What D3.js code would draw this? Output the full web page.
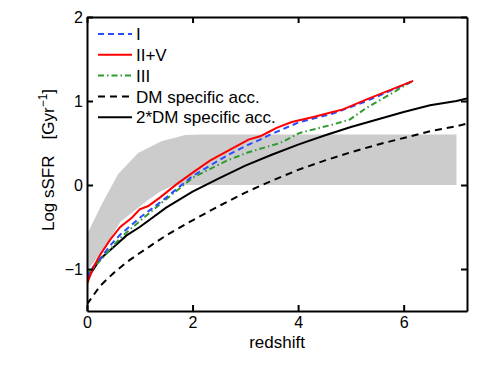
<!DOCTYPE html>
<html>
<head>
	<meta charset="UTF-8"/>
	<title>Log sSFR vs redshift</title>
	<style type="text/css">
		body {
		margin: 0;
		background: #fff;
		font-family: 'Liberation Sans', Arial, sans-serif;
		}
		svg {
		display: block;
		}
		text {
		fill: #000;
		}
		.axis text {
		font-size: 16px;
		font-family: 'Liberation Sans', Arial, sans-serif;
		}
		.axis path, .axis line {
		stroke: #000;
		stroke-width: 2;
		}
		.curve {
		fill: none;
		stroke-width: 2;
		}
		.legend text {
		font-size: 17px;
		}
	</style>
	<script src="https://d3js.org/d3.v7.min.js"></script>
</head>
<body>
	<svg width="485" height="365"></svg>
	<script>
		// values
		const xTicks = [0, 2, 4, 6];
		const yTicks = [-1, 0, 1, 2];

		// model I
		const zI = [0, 0.12, 0.25, 0.44, 0.63, 1.0, 1.38, 2.01, 2.65, 3.06, 3.28, 3.47, 3.84, 4.03, 4.66, 5.30, 5.74, 6.18];
		const sI = [-1.10, -0.97, -0.88, -0.72, -0.59, -0.39, -0.21, 0.11, 0.35, 0.48, 0.54, 0.60, 0.70, 0.75, 0.85, 1.00, 1.12, 1.24];

		// model II+V
		const zII = [0, 0.12, 0.25, 0.44, 0.63, 0.85, 1.0, 1.16, 1.38, 1.70, 2.01, 2.33, 2.65, 3.06, 3.28, 3.47, 3.59, 3.88, 4.29, 4.60, 4.85, 5.30, 5.74, 6.18];
		const sII = [-1.18, -0.98, -0.83, -0.65, -0.50, -0.39, -0.29, -0.25, -0.15, 0.01, 0.15, 0.29, 0.40, 0.54, 0.58, 0.64, 0.68, 0.75, 0.81, 0.86, 0.90, 1.02, 1.13, 1.24];

		// model III
		const zIII = [0, 0.25, 0.63, 1.0, 1.38, 2.01, 2.65, 3.06, 3.66, 4.03, 4.66, 4.98, 5.30, 5.74, 6.15];
		const sIII = [-1.06, -0.90, -0.63, -0.43, -0.23, 0.09, 0.29, 0.39, 0.50, 0.62, 0.72, 0.78, 0.92, 1.08, 1.23];

		// dark matter specific accretion rate, and twice that
		const zDM = [0, 0.25, 0.5, 0.75, 1, 1.5, 2, 2.5, 3, 3.5, 4, 4.5, 5, 5.5, 6, 6.5, 7, 7.2];
		const sDM = [-1.42, -1.20, -1.05, -0.92, -0.81, -0.60, -0.42, -0.25, -0.09, 0.05, 0.18, 0.29, 0.39, 0.48, 0.56, 0.64, 0.70, 0.73];
		const s2DM = [-1.12, -0.88, -0.74, -0.60, -0.50, -0.27, -0.08, 0.08, 0.23, 0.36, 0.48, 0.59, 0.69, 0.78, 0.87, 0.95, 1.00, 1.03];

		// observed range (grey band), upper edge left->right, lower edge right->left
		const bandUpZ = [0, 0.28, 0.59, 0.97, 1.41, 1.86, 2.2, 7.0];
		const bandUpS = [-0.59, -0.23, 0.13, 0.38, 0.52, 0.595, 0.6, 0.6];
		const bandLoZ = [7.0, 1.65, 1.38, 1.13, 0.91, 0.63, 0.3, 0];
		const bandLoS = [0, 0, -0.08, -0.19, -0.30, -0.44, -0.78, -1.02];

		const series = [
			{ name: 'I', z: zI, s: sI, color: '#2a4dff', dash: '6 4' },
			{ name: 'II+V', z: zII, s: sII, color: '#ff0000', dash: null },
			{ name: 'III', z: zIII, s: sIII, color: '#2f9a2f', dash: '6 3 1.5 3' },
			{ name: 'DM specific acc.', z: zDM, s: sDM, color: '#000', dash: '7 5' },
			{ name: '2*DM specific acc.', z: zDM, s: s2DM, color: '#000', dash: null }
		];

		const pLeft = 87, pRight = 467, pTop = 17, pBottom = 311;

		const svg = d3.select('svg');

		const x = d3.scaleLinear().domain([0, 7.2]).range([pLeft, pRight]);
		const y = d3.scaleLinear().domain([-1.5, 2]).range([pBottom, pTop]);

		svg.append('clipPath').attr('id', 'plot')
			.append('rect')
			.attr('x', pLeft).attr('y', pTop)
			.attr('width', pRight - pLeft).attr('height', pBottom - pTop);

		// grey band
		const bandPts = bandUpZ.map((z, i) => [z, bandUpS[i]])
			.concat(bandLoZ.map((z, i) => [z, bandLoS[i]]));
		svg.append('path')
			.attr('d', d3.line().x(d => x(d[0])).y(d => y(d[1]))(bandPts) + 'Z')
			.attr('fill', '#cccccc')
			.attr('clip-path', 'url(#plot)');

		const line = d3.line().x(d => x(d[0])).y(d => y(d[1]));

		// draw back to front: black ones first, then III, I, II+V on top
		const order = [4, 3, 2, 0, 1];
		order.forEach(k => {
			const s = series[k];
			svg.append('path')
				.attr('class', 'curve')
				.attr('d', line(s.z.map((z, i) => [z, s.s[i]])))
				.attr('stroke', s.color)
				.attr('stroke-dasharray', s.dash)
				.attr('clip-path', 'url(#plot)');
		});

		const fmt = d3.format('d');

		// axes, ticks pointing inward
		svg.append('g').attr('class', 'axis')
			.attr('transform', `translate(0, ${pBottom})`)
			.call(d3.axisBottom(x).tickValues(xTicks).tickFormat(fmt).tickSize(-6).tickSizeOuter(0).tickPadding(6));
		svg.append('g').attr('class', 'axis')
			.attr('transform', `translate(0, ${pTop})`)
			.call(d3.axisTop(x).tickValues(xTicks).tickSize(-6).tickSizeOuter(0).tickFormat(''));
		svg.append('g').attr('class', 'axis')
			.attr('transform', `translate(${pLeft}, 0)`)
			.call(d3.axisLeft(y).tickValues(yTicks).tickFormat(fmt).tickSize(-6).tickSizeOuter(0).tickPadding(4));
		svg.append('g').attr('class', 'axis')
			.attr('transform', `translate(${pRight}, 0)`)
			.call(d3.axisRight(y).tickValues(yTicks).tickSize(-6).tickSizeOuter(0).tickFormat(''));

		svg.selectAll('.axis text').attr('fill', '#000');

		// axis labels
		svg.append('text')
			.attr('x', (pLeft + pRight) / 2).attr('y', 348)
			.attr('text-anchor', 'middle')
			.style('font-size', '17px')
			.text('redshift');

		const yl = svg.append('text')
			.attr('transform', 'translate(54, 160) rotate(-90)')
			.attr('text-anchor', 'middle')
			.style('font-size', '17px');
		yl.append('tspan').text('Log sSFR');
		yl.append('tspan').attr('dx', 16).text('[Gyr');
		yl.append('tspan').attr('dy', -7).style('font-size', '12px').text('−1');
		yl.append('tspan').attr('dy', 7).text(']');

		// legend
		const legend = svg.append('g').attr('class', 'legend');
		series.forEach((s, i) => {
			const ly = 34 + i * 20.8;
			legend.append('line')
				.attr('x1', 98).attr('x2', 132)
				.attr('y1', ly).attr('y2', ly)
				.attr('stroke', s.color)
				.attr('stroke-width', 2)
				.attr('stroke-dasharray', s.dash);
			legend.append('text')
				.attr('x', 136).attr('y', ly)
				.attr('dy', '0.36em')
				.text(s.name);
		});
	</script>
</body>
</html>
